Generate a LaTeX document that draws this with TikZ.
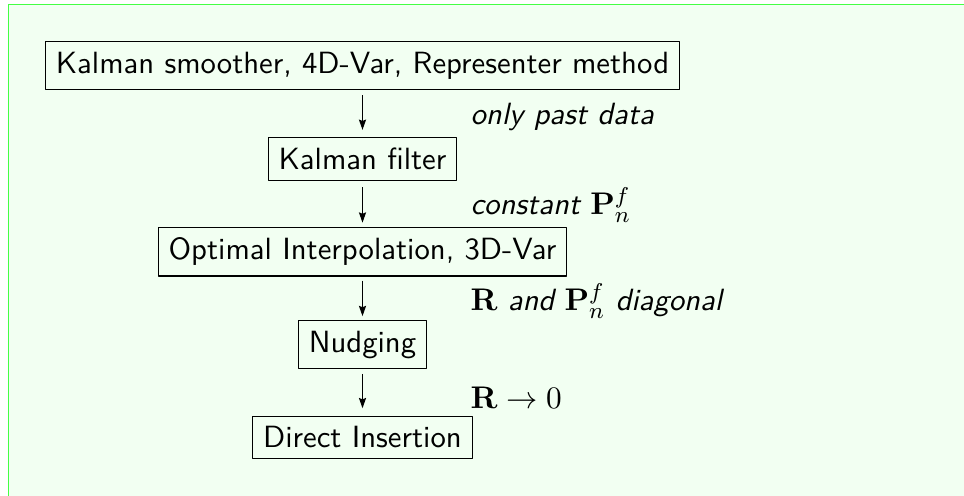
\documentclass[tikz,border=0pt]{standalone}
\usetikzlibrary{calc,arrows.meta}

\begin{document}
\begin{tikzpicture}[
    x=0.35pt,
    y=-0.35pt,
    line join=round,
    font=\sffamily\fontsize{10.75}{13.4}\selectfont
]

\definecolor{FrameGreen}{HTML}{44FF44}
\definecolor{PaleGreen}{HTML}{F2FFF2}

\tikzset{
    method box/.style={
        draw=black,
        line width=0.4pt,
        inner sep=3.6pt
    },
    step label/.style={
        anchor=base west,
        inner sep=0pt,
        font=\sffamily\fontsize{10.75}{13.4}\selectfont\itshape
    },
    flow/.style={
        -{Stealth[length=3.6pt,width=2.5pt,inset=0.5pt]},
        line width=0.4pt
    }
}

\useasboundingbox (0,0) rectangle (964,496);
\fill[PaleGreen] (8.5,4.5) rectangle (964,496);
\draw[FrameGreen, line width=0.45pt] (964,4.5) -- (8.5,4.5) -- (8.5,496);

% the chain of methods
\node[method box] (smoother) at (362.5,65.5) {Kalman smoother, 4D-Var, Representer method};
\node[method box] (filter) at (362.5,159) {Kalman filter};
\node[method box] (optint) at (362.5,251.8) {Optimal Interpolation, 3D-Var};
\node[method box] (nudging) at (362.5,344.8) {Nudging};
\node[method box] (direct) at (362.5,437.5) {Direct Insertion};

% simplifying assumptions
\node[step label] (past) at (470,124.3) {only past data};
\node[step label] (constP) at (470,215) {constant $\mathbf{P}_n^f$};
\node[step label] (diagRP) at (470,310.7) {$\mathbf{R}$ and $\mathbf{P}_n^f$ diagonal};
\node[step label] (zeroR) at (470,408.3) {$\mathbf{R} \rightarrow 0$};

\draw[flow] ($(smoother.south)+(0,5.2)$) -- ($(filter.north)+(0,-7.3)$);
\draw[flow] ($(filter.south)+(0,6.3)$) -- ($(optint.north)+(0,-4.3)$);
\draw[flow] ($(optint.south)+(0,4)$) -- ($(nudging.north)+(0,-4)$);
\draw[flow] ($(nudging.south)+(0,4.4)$) -- ($(direct.north)+(0,-7.6)$);

\end{tikzpicture}
\end{document}
